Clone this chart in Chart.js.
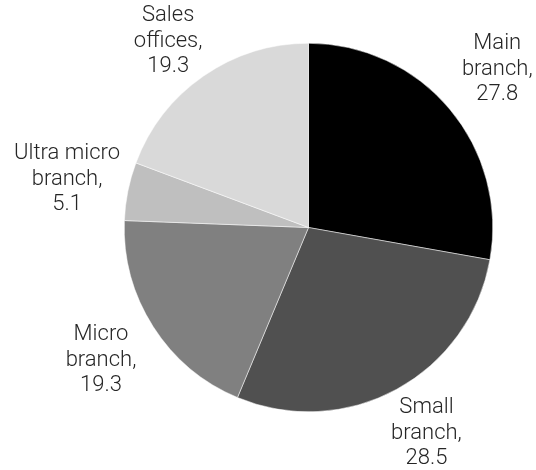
<!DOCTYPE html>
<html>
<head>
<meta charset="utf-8">
<script src="https://cdn.jsdelivr.net/npm/chart.js@4"></script>
<style>
  html, body { margin: 0; padding: 0; background: #fff; }
  #wrap { width: 536px; height: 470px; }
</style>
</head>
<body>
<div id="wrap"><canvas id="pieChart" width="536" height="470"></canvas></div>
<script>
const categories = ['Main branch', 'Small branch', 'Micro branch', 'Ultra micro branch', 'Sales offices'];
const labelLines = [['Main', 'branch,'], ['Small', 'branch,'], ['Micro', 'branch,'], ['Ultra micro', 'branch,'], ['Sales', 'offices,']];
const shares = [27.8, 28.5, 19.3, 5.1, 19.3];
const sliceColors = ['#000000', '#505050', '#808080', '#bfbfbf', '#d9d9d9'];

// draws "name, value" outside each slice, along its middle angle,
// kept inside the canvas at top and bottom
const outsideLabels = {
    id: 'outsideLabels',
    afterDatasetsDraw(chart) {
        const ctx = chart.ctx;
        const meta = chart.getDatasetMeta(0);
        const lineH = 25.5;
        const half = lineH + 13.5;
        ctx.save();
        ctx.font = '300 22px Roboto';
        ctx.fillStyle = '#262626';
        ctx.textAlign = 'center';
        ctx.textBaseline = 'middle';
        meta.data.forEach((arc, i) => {
            const mid = (arc.startAngle + arc.endAngle) / 2;
            const d = arc.outerRadius + 62;
            const x = arc.x + Math.cos(mid) * d;
            let y = arc.y + Math.sin(mid) * d;
            y = Math.max(half + 2, Math.min(chart.height - half + 2, y));
            const lines = labelLines[i].concat([shares[i].toFixed(1)]);
            lines.forEach((t, k) => {
                ctx.fillText(t, x, y + (k - 1) * lineH);
            });
        });
        ctx.restore();
    }
};

new Chart(document.getElementById('pieChart').getContext('2d'), {
    type: 'pie',
    data: {
        labels: categories,
        datasets: [{
            data: shares,
            backgroundColor: sliceColors,
            borderColor: '#ffffff',
            borderWidth: 0.5
        }]
    },
    options: {
        responsive: false,
        animation: false,
        layout: { padding: { top: 43, bottom: 58, left: 124, right: 43 } },
        plugins: {
            legend: { display: false },
            tooltip: { enabled: false }
        }
    },
    plugins: [outsideLabels]
});
</script>
</body>
</html>
